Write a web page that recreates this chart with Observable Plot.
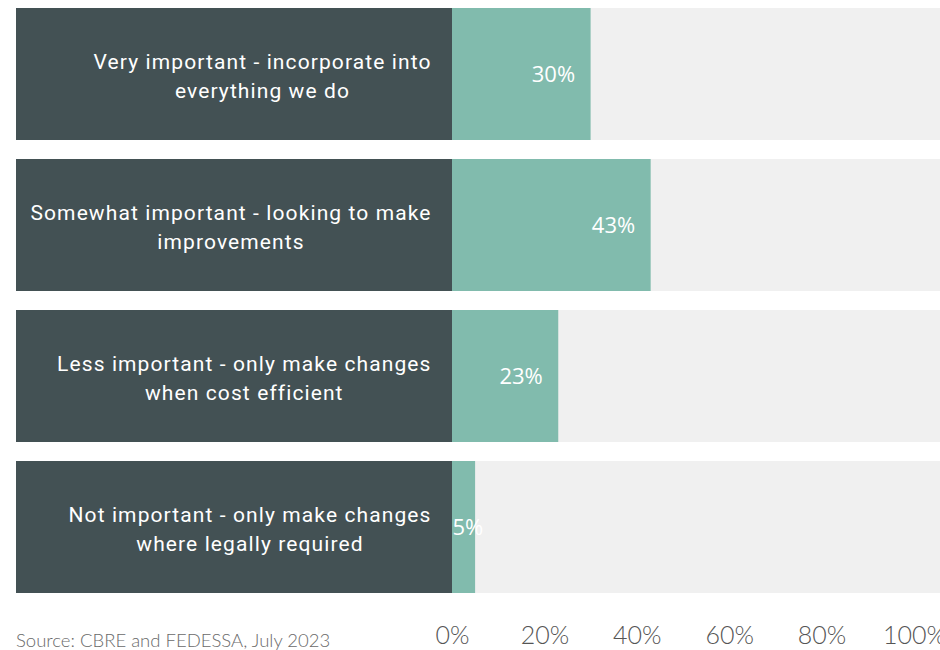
<!DOCTYPE html>
<html>
<head>
<meta charset="utf-8">
<script src="https://cdn.jsdelivr.net/npm/d3@7"></script>
<script src="https://cdn.jsdelivr.net/npm/@observablehq/plot@0.6"></script>
<style>
  html, body { margin: 0; padding: 0; background: #fff; overflow: hidden; }
  #wrap { position: relative; width: 940px; height: 650px; }
  #caption { position: absolute; left: 16px; top: 629px; font-family: Lato, sans-serif; font-weight: 300; font-size: 18.5px; color: #6a6a6a; white-space: nowrap; }
  .cat-label text { letter-spacing: 1.1px; }
</style>
</head>
<body>
<div id="wrap">
  <div id="chart"></div>
  <div id="caption">Source: CBRE and FEDESSA, July 2023</div>
</div>
<script>
// ---- data ----
const categories = [
  "Very important - incorporate into\neverything we do",
  "Somewhat important - looking to make\nimprovements",
  "Less important - only make changes\nwhen cost efficient",
  "Not important - only make changes\nwhere legally required"
];
const values = [30, 43, 23, 5];
const tickValues = [0, 20, 40, 60, 80, 100];

const data = categories.map((c, i) => ({ category: c, value: values[i] }));

// ---- layout ----
const W = 940, H = 650;
const PANEL_LEFT = 16, ZERO_PX = 452, FULL_PX = 914;
const pxPerUnit = (FULL_PX - ZERO_PX) / 100;
const xMin = (PANEL_LEFT - ZERO_PX) / pxPerUnit;
const xMax = (W - ZERO_PX) / pxPerUnit;

const DARK = "#435154", GREEN = "#81bbad", GRAY = "#f0f0f0";

const chart = Plot.plot({
  width: W,
  height: H,
  marginTop: 8,
  marginBottom: 57,
  marginLeft: PANEL_LEFT,
  marginRight: 0,
  style: { background: "transparent", overflow: "visible" },
  x: { domain: [xMin, xMax], axis: null },
  y: { domain: categories, axis: null, paddingInner: 0.126, paddingOuter: 0 },
  marks: [
    Plot.barX(data, { y: "category", x1: xMin, x2: 0, fill: DARK }),
    Plot.barX(data, { y: "category", x1: 0, x2: xMax, fill: GRAY }),
    Plot.barX(data, { y: "category", x1: 0, x2: "value", fill: GREEN }),
    Plot.text(data, {
      y: "category", x: 0, text: "category", dx: -21,
      textAnchor: "end", fill: "#ffffff", fontSize: 21, lineHeight: 1.38,
      fontFamily: "Roboto, sans-serif", className: "cat-label"
    }),
    Plot.text(data.filter(d => d.value >= 10), {
      y: "category", x: "value", text: d => d.value + "%", dx: -16,
      textAnchor: "end", fill: "#ffffff", fontSize: 22,
      fontFamily: "'Open Sans', sans-serif"
    }),
    Plot.text(data.filter(d => d.value < 10), {
      y: "category", x: 0, text: d => d.value + "%", dx: 0,
      textAnchor: "start", fill: "#ffffff", fontSize: 22,
      fontFamily: "'Open Sans', sans-serif"
    }),
    Plot.axisX(tickValues, {
      label: null, tickSize: 0, tickPadding: 33, tickFormat: d => d + "%",
      fontSize: 25, fill: "#555555", fontFamily: "Lato, sans-serif", fontWeight: 300
    })
  ]
});

document.getElementById("chart").appendChild(chart);

// center the lines of each category label within its block (right edge fixed)
chart.querySelectorAll(".cat-label text").forEach(t => {
  const spans = t.querySelectorAll("tspan");
  if (!spans.length) return;
  let w = 0;
  spans.forEach(s => { w = Math.max(w, s.getComputedTextLength()); });
  t.setAttribute("text-anchor", "middle");
  spans.forEach(s => s.setAttribute("x", -w / 2));
});
</script>
</body>
</html>
